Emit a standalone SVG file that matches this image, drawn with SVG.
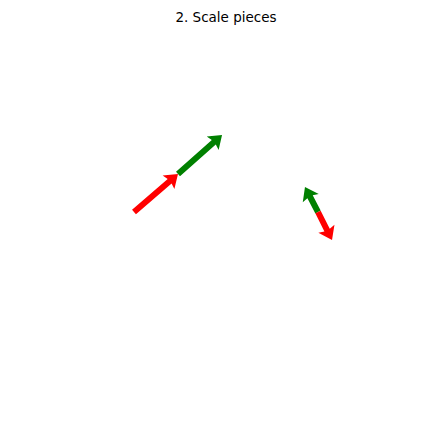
<svg xmlns="http://www.w3.org/2000/svg" width="432" height="432" viewBox="0 0 432 432">
<style>
.t{font-family:"DejaVu Sans",sans-serif;font-size:13.5px;fill:#000}
.g{fill:#008000}
.r{fill:#ff0000}
</style>
<rect width="432" height="432" fill="#fff"/>
<text class="t" x="226" y="22" text-anchor="middle">2. Scale pieces</text>
<g id="connectors">
<g id="pair1">
<path class="g" transform="translate(178,174) rotate(-41.5)" d="M0,-3 L47.8,-3 L46.3,-9 L58.8,0 L46.3,9 L47.8,3 L0,3 Z"/>
<path class="r" transform="translate(134,212) rotate(-40.8)" d="M0,-3 L47.1,-3 L45.6,-9 L58.1,0 L45.6,9 L47.1,3 L0,3 Z"/>
</g>
<g id="pair2">
<path class="g" transform="translate(318,212) rotate(-117.5)" d="M0,-3 L17.2,-3 L15.7,-9 L28.2,0 L15.7,9 L17.2,3 L0,3 Z"/>
<path class="r" transform="translate(318,212) rotate(63.4)" d="M0,-3 L20.3,-3 L18.8,-9 L31.3,0 L18.8,9 L20.3,3 L0,3 Z"/>
</g>
</g>
</svg>
